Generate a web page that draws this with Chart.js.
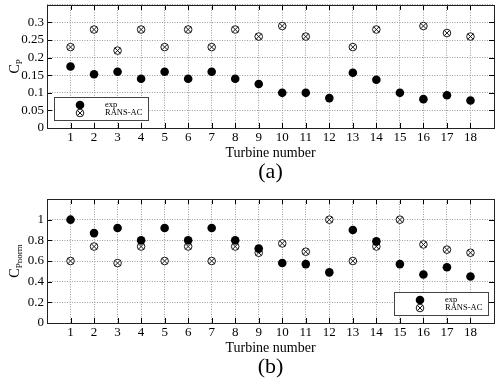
<!DOCTYPE html>
<html>
<head>
<meta charset="utf-8">
<script src="https://cdn.jsdelivr.net/npm/chart.js@4.4.1/dist/chart.umd.min.js"></script>
<style>
  html, body { margin: 0; padding: 0; background: #fff; }
  canvas { display: block; }
</style>
</head>
<body>
<canvas id="cpChart" width="500" height="190"></canvas>
<canvas id="cpnChart" width="500" height="191"></canvas>
<script>
// turbine numbers on the x axis
const turbines = [1, 2, 3, 4, 5, 6, 7, 8, 9, 10, 11, 12, 13, 14, 15, 16, 17, 18];

// (a) power coefficient
const cpExp  = [0.175, 0.153, 0.16, 0.14, 0.16, 0.14, 0.16, 0.14, 0.125, 0.1, 0.1, 0.085, 0.157, 0.137, 0.1, 0.082, 0.093, 0.078];
const cpRans = [0.23, 0.28, 0.22, 0.28, 0.23, 0.28, 0.23, 0.28, 0.26, 0.29, 0.26, null, 0.23, 0.28, null, 0.29, 0.27, 0.26];

// (b) normalised power coefficient
const cpnExp  = [1.0, 0.87, 0.92, 0.8, 0.92, 0.8, 0.92, 0.8, 0.72, 0.58, 0.57, 0.49, 0.9, 0.79, 0.57, 0.47, 0.54, 0.45];
const cpnRans = [0.6, 0.74, 0.58, 0.74, 0.6, 0.74, 0.6, 0.74, 0.68, 0.77, 0.69, 1.0, 0.6, 0.74, 1.0, 0.76, 0.71, 0.68];

const seriesNames = ["exp", "RANS-AC"];

const SERIF = "'Liberation Serif', 'DejaVu Serif', serif";
const RING_R = 3.8;

const toPoints = (ys) => turbines.map((t, i) => ({ x: t, y: ys[i] })).filter(p => p.y !== null);

// frame, inward ticks, legend box, y label and caption
const decoPlugin = {
  id: "deco",
  afterDraw(chart, args, o) {
    const { ctx, chartArea: a, scales } = chart;
    ctx.save();

    // inward ticks
    ctx.strokeStyle = "#000";
    ctx.lineWidth = 1;
    ctx.beginPath();
    scales.x.ticks.forEach(t => {
      if (t.value <= 0 || t.value >= 19) return;
      const px = Math.round(scales.x.getPixelForValue(t.value)) + 0.5;
      ctx.moveTo(px, a.bottom); ctx.lineTo(px, a.bottom - 5);
      ctx.moveTo(px, a.top); ctx.lineTo(px, a.top + 5);
    });
    scales.y.ticks.forEach(t => {
      if (t.value <= 0 || t.value >= o.yMax - 1e-9) return;
      const py = Math.round(scales.y.getPixelForValue(t.value)) + 0.5;
      ctx.moveTo(a.left, py); ctx.lineTo(a.left + 5, py);
      ctx.moveTo(a.right, py); ctx.lineTo(a.right - 5, py);
    });
    ctx.stroke();

    // frame
    ctx.strokeStyle = "#222";
    ctx.strokeRect(Math.round(a.left) + 0.5, Math.round(a.top) + 0.5,
      Math.round(a.right - a.left), Math.round(a.bottom - a.top));

    // legend
    const bw = 94, bh = 23;
    const bx = o.legendLeft ? Math.round(a.left + 7) : Math.round(a.right - 6 - bw);
    const by = Math.round(a.bottom - 8 - bh);
    ctx.fillStyle = "#fff";
    ctx.fillRect(bx, by, bw, bh);
    ctx.strokeStyle = "#444";
    ctx.strokeRect(bx + 0.5, by + 0.5, bw, bh);
    ctx.fillStyle = "#000";
    ctx.beginPath(); ctx.arc(bx + 26, by + 8, 4.3, 0, Math.PI * 2); ctx.fill();
    const mx = bx + 26, my = by + 16, d = RING_R * Math.SQRT1_2;
    ctx.strokeStyle = "#000";
    ctx.lineWidth = 0.9;
    ctx.fillStyle = "#fff";
    ctx.beginPath(); ctx.arc(mx, my, RING_R, 0, Math.PI * 2); ctx.fill(); ctx.stroke();
    ctx.beginPath();
    ctx.moveTo(mx - d, my - d); ctx.lineTo(mx + d, my + d);
    ctx.moveTo(mx + d, my - d); ctx.lineTo(mx - d, my + d);
    ctx.stroke();
    ctx.fillStyle = "#000";
    ctx.font = "8.5px " + SERIF;
    ctx.textBaseline = "middle";
    ctx.textAlign = "left";
    ctx.fillText(seriesNames[0], bx + 51, by + 8);
    ctx.fillText(seriesNames[1], bx + 51, by + 16);

    // y label with subscript, rotated
    const cy = (a.top + a.bottom) / 2;
    ctx.translate(18.5, cy);
    ctx.rotate(-Math.PI / 2);
    ctx.textBaseline = "alphabetic";
    ctx.font = "14px " + SERIF;
    const wC = ctx.measureText("C").width;
    ctx.font = "9px " + SERIF;
    const wS = ctx.measureText(o.ySub).width;
    const start = -(wC + wS) / 2;
    ctx.font = "14px " + SERIF;
    ctx.fillText("C", start, 0);
    ctx.font = "9px " + SERIF;
    ctx.fillText(o.ySub, start + wC, 3);
    ctx.setTransform(1, 0, 0, 1, 0, 0);

    // caption
    ctx.font = "22px " + SERIF;
    ctx.textAlign = "center";
    ctx.textBaseline = "middle";
    ctx.fillText(o.caption, (a.left + a.right) / 2, a.bottom + 44);

    ctx.restore();
  }
};

function makeChart(id, expVals, ransVals, cfg) {
  const tickFont = { family: SERIF, size: 13 };
  return new Chart(document.getElementById(id), {
    type: "scatter",
    data: {
      datasets: [
        {
          label: seriesNames[0],
          data: toPoints(expVals),
          pointStyle: "circle",
          pointRadius: 4.3,
          backgroundColor: "#000",
          borderColor: "#000",
          borderWidth: 0,
          order: 0
        },
        {
          label: seriesNames[1] + " cross",
          data: toPoints(ransVals),
          pointStyle: "crossRot",
          pointRadius: RING_R,
          borderColor: "#000",
          borderWidth: 0.9,
          order: 1
        },
        {
          label: seriesNames[1],
          data: toPoints(ransVals),
          pointStyle: "circle",
          pointRadius: RING_R,
          backgroundColor: "#fff",
          borderColor: "#000",
          borderWidth: 0.9,
          order: 2
        }
      ]
    },
    options: {
      responsive: false,
      animation: false,
      devicePixelRatio: 1,
      layout: { padding: { top: cfg.padTop, right: 6, bottom: cfg.padBottom, left: 0 } },
      plugins: {
        legend: { display: false },
        tooltip: { enabled: false },
        deco: { yMax: cfg.yMax, ySub: cfg.ySub, caption: cfg.caption, legendLeft: cfg.legendLeft }
      },
      scales: {
        x: {
          type: "linear",
          min: 0,
          max: 19,
          afterFit: s => { s.height = 56; s.paddingLeft = 0; s.paddingRight = 0; },
          ticks: {
            stepSize: 1,
            padding: 2,
            maxRotation: 0,
            autoSkip: false,
            color: "#000",
            font: tickFont,
            callback: v => (v >= 1 && v <= 18) ? String(v) : ""
          },
          grid: { color: "#9a9a9a", lineWidth: 1, drawTicks: false },
          border: { display: false, dash: [1, 1.5] },
          title: {
            display: true,
            text: "Turbine number",
            color: "#000",
            font: { family: SERIF, size: 14 },
            padding: { top: 0, bottom: 22 }
          }
        },
        y: {
          min: 0,
          max: cfg.yMax,
          afterFit: s => { s.width = 47; s.paddingTop = 0; s.paddingBottom = 0; },
          ticks: {
            stepSize: cfg.yStep,
            autoSkip: false,
            padding: 3,
            color: "#000",
            font: tickFont,
            callback: v => v >= cfg.yMax - 1e-9 ? "" : String(+v.toFixed(2))
          },
          grid: { color: "#9a9a9a", lineWidth: 1, drawTicks: false },
          border: { display: false, dash: [1, 1.5] }
        }
      }
    },
    plugins: [decoPlugin]
  });
}

makeChart("cpChart", cpExp, cpRans, {
  yMax: 0.35, yStep: 0.05, ySub: "P", caption: "(a)", legendLeft: true, padTop: 4, padBottom: 6
});
makeChart("cpnChart", cpnExp, cpnRans, {
  yMax: 1.2, yStep: 0.2, ySub: "Pnorm", caption: "(b)", legendLeft: false, padTop: 9, padBottom: 2
});
</script>
</body>
</html>
